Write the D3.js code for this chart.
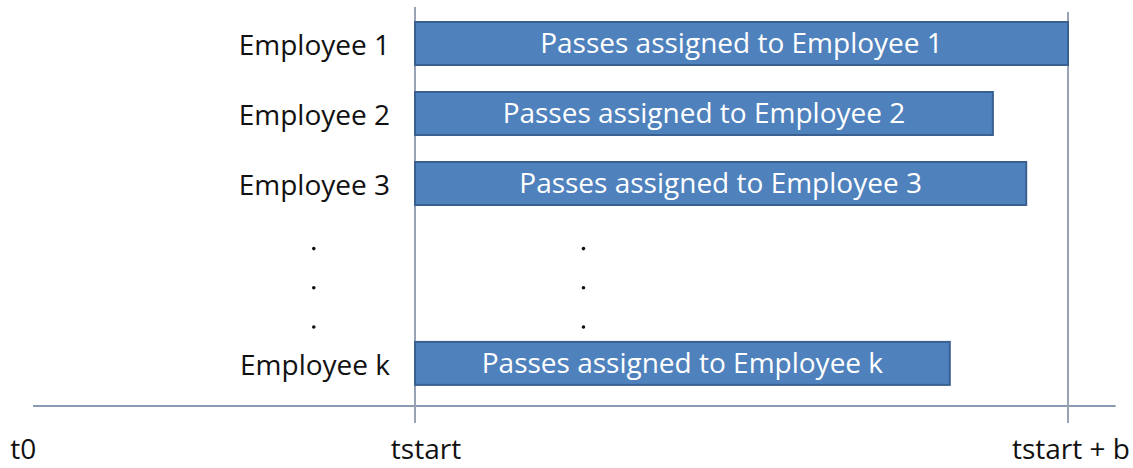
<!DOCTYPE html>
<html>
<head>
<meta charset="utf-8">
<script src="https://cdn.jsdelivr.net/npm/d3@7"></script>
<style>
  body { margin: 0; background: #fff; }
  text { font-family: "Open Sans", "Noto Sans", sans-serif; fill: #111; }
</style>
</head>
<body>
<div id="chart"></div>
<script>
// Данные: время в долях b, tstart = 0
const employees = ["Employee 1", "Employee 2", "Employee 3", "Employee k"];
const rowSlots = [0, 1, 2, 4.57];          // позиции строк (k ниже, после точек)
const barEnds = [1.0, 0.885, 0.936, 0.819]; // конец полосы, в единицах b
const barLabels = employees.map(e => "Passes assigned to " + e);
const dotSlots = [2.93, 3.49, 4.05];
const ticks = [
  { t: -0.6, label: "t0" },
  { t: 0, label: "tstart" },
  { t: 1, label: "tstart + b" }
];

const W = 1133, H = 468;
const svg = d3.select("#chart").append("svg")
  .attr("width", W).attr("height", H);

const x = d3.scaleLinear().domain([0, 1]).range([415, 1068]);
const y = d3.scaleLinear().domain([0, 1]).range([43.5, 113.5]);
const barH = 43;
const fs = "28px";

// ось времени
svg.append("line")
  .attr("x1", x(-0.585)).attr("x2", x(1.073))
  .attr("y1", 406).attr("y2", 406)
  .attr("stroke", "#8a9ab3").attr("stroke-width", 2);

// вертикальные линии tstart и tstart + b
svg.append("line")
  .attr("x1", x(0)).attr("x2", x(0))
  .attr("y1", 7).attr("y2", 423)
  .attr("stroke", "#9aa3b5").attr("stroke-width", 2);
svg.append("line")
  .attr("x1", x(1)).attr("x2", x(1))
  .attr("y1", 12).attr("y2", 423)
  .attr("stroke", "#9aa3b5").attr("stroke-width", 2);

// полосы
const rows = svg.append("g").selectAll("g")
  .data(employees.map((e, i) => ({ name: e, slot: rowSlots[i], end: barEnds[i], label: barLabels[i] })))
  .join("g");

rows.append("rect")
  .attr("x", x(0))
  .attr("y", d => y(d.slot) - barH / 2)
  .attr("width", d => x(d.end) - x(0))
  .attr("height", barH)
  .attr("fill", "#4f81bd")
  .attr("stroke", "#3a6091")
  .attr("stroke-width", 2);

rows.append("text")
  .attr("x", d => (x(0) + x(d.end)) / 2)
  .attr("y", d => y(d.slot))
  .attr("dy", "0.35em")
  .attr("text-anchor", "middle")
  .style("fill", "#fff")
  .style("font-size", fs)
  .text(d => d.label);

rows.append("text")
  .attr("x", 390)
  .attr("y", d => y(d.slot) + 2)
  .attr("dy", "0.35em")
  .attr("text-anchor", "end")
  .style("font-size", fs)
  .text(d => d.name);

// вертикальные точки
[x(-0.155), x(0.258)].forEach(cx => {
  svg.append("g").selectAll("circle")
    .data(dotSlots)
    .join("circle")
    .attr("cx", cx)
    .attr("cy", d => y(d))
    .attr("r", 1.8)
    .attr("fill", "#111");
});

// подписи времени
svg.append("g").selectAll("text")
  .data(ticks)
  .join("text")
  .attr("x", d => x(d.t) + (d.t === 0 ? 11 : d.t === 1 ? 3 : 0))
  .attr("y", 459)
  .attr("text-anchor", "middle")
  .style("font-size", fs)
  .text(d => d.label);
</script>
</body>
</html>
